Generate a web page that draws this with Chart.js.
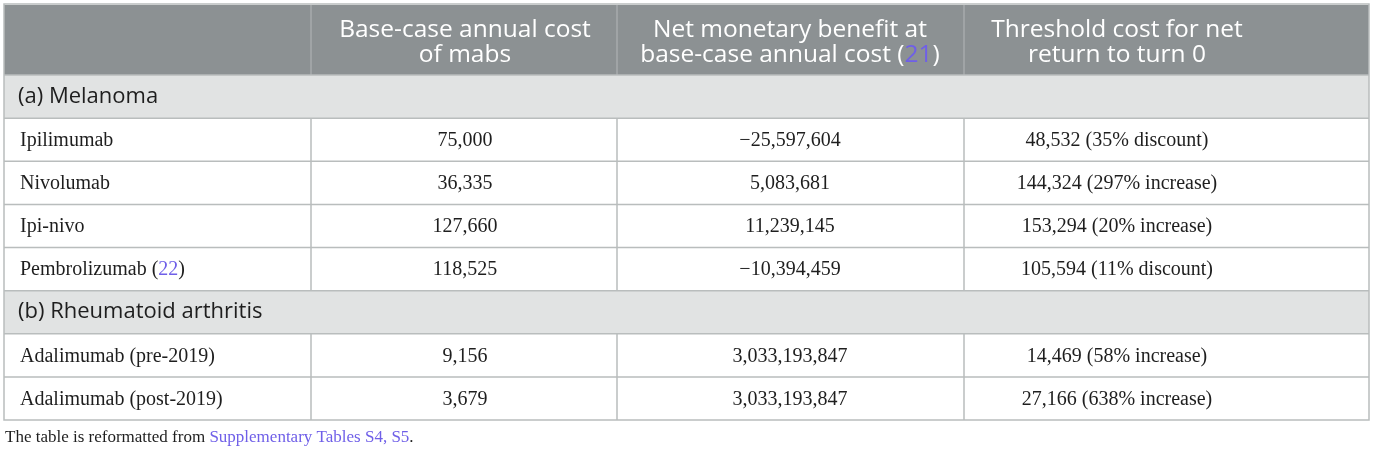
<!DOCTYPE html>
<html>
<head>
<meta charset="utf-8">
<script src="https://cdn.jsdelivr.net/npm/chart.js@4/dist/chart.umd.min.js"></script>
<style>
  body { margin: 0; background: #fff; }
  canvas { display: block; }
</style>
</head>
<body>
<canvas id="costTable" width="1375" height="452"></canvas>
<script>
const ctx = document.getElementById('costTable').getContext('2d');

// table content
const rowLabels = ['(a) Melanoma', 'Ipilimumab', 'Nivolumab', 'Ipi-nivo', 'Pembrolizumab',
    '(b) Rheumatoid arthritis', 'Adalimumab (pre-2019)', 'Adalimumab (post-2019)'];
const sectionRows = [true, false, false, false, false, true, false, false];
const labelRefs = [null, null, null, null, '22', null, null, null];
const baseCost = [null, 75000, 36335, 127660, 118525, null, 9156, 3679];
const netBenefit = [null, -25597604, 5083681, 11239145, -10394459, null, 3033193847, 3033193847];
const thresholdCost = [null, 48532, 144324, 153294, 105594, null, 14469, 27166];
const thresholdChange = [null, '35% discount', '297% increase', '20% increase', '11% discount',
    null, '58% increase', '638% increase'];
const headerLines = [
    [],
    [['Base-case annual cost'], ['of mabs']],
    [['Net monetary benefit at'], ['base-case annual cost (', '21', ')']],
    [['Threshold cost for net'], ['return to turn 0']]
];
const footnote = ['The table is reformatted from ', 'Supplementary Tables S4, S5', '.'];

// layout (x scale units = table width in px)
const TABLE_W = 1365;
const colEdges = [0, 307, 613, 960, TABLE_W];
const colAnchor = [16, 461, 786, 1113];
const HEADER_TOP = 5;

const LINK = '#6f5fe8';
const TEXT = '#1e1e1e';
const BORDER = '#b9bdbd';
const HEADER_BG = '#8c9193';
const SECTION_BG = '#e1e3e3';

const fmt = v => (v < 0 ? '\u2212' : '') + Math.abs(v).toLocaleString('en-US');

// draw text made of parts, odd parts are citation links
function drawParts(c, parts, x, y, align, color) {
    const widths = parts.map(p => c.measureText(p).width);
    const total = widths.reduce((a, b) => a + b, 0);
    let cx = align === 'center' ? x - total / 2 : x;
    c.textAlign = 'left';
    parts.forEach((p, i) => {
        c.fillStyle = i % 2 === 1 ? LINK : color;
        c.fillText(p, cx, y);
        cx += widths[i];
    });
}

const tablePlugin = {
    id: 'tableCells',
    beforeDatasetsDraw(chart) {
        const c = chart.ctx;
        const x = chart.scales.x;
        const area = chart.chartArea;
        c.save();
        c.fillStyle = HEADER_BG;
        c.fillRect(x.getPixelForValue(0), HEADER_TOP, x.getPixelForValue(TABLE_W) - x.getPixelForValue(0), area.top - HEADER_TOP);
        c.restore();
    },
    afterDatasetsDraw(chart) {
        const c = chart.ctx;
        const x = chart.scales.x;
        const y = chart.scales.y;
        const area = chart.chartArea;
        const left = x.getPixelForValue(0);
        const right = x.getPixelForValue(TABLE_W);
        const rowH = y.getPixelForValue(1) - y.getPixelForValue(0);
        c.save();

        // header separators
        c.strokeStyle = '#a7abad';
        c.lineWidth = 1.5;
        for (let k = 1; k < colEdges.length - 1; k++) {
            const px = x.getPixelForValue(colEdges[k]);
            c.beginPath();
            c.moveTo(px, HEADER_TOP);
            c.lineTo(px, area.top);
            c.stroke();
        }

        // row borders
        c.strokeStyle = BORDER;
        rowLabels.forEach((_, i) => {
            const top = y.getPixelForValue(i) - rowH / 2;
            c.beginPath();
            c.moveTo(left, top);
            c.lineTo(right, top);
            c.stroke();
            if (!sectionRows[i]) {
                for (let k = 1; k < colEdges.length - 1; k++) {
                    const px = x.getPixelForValue(colEdges[k]);
                    c.beginPath();
                    c.moveTo(px, top);
                    c.lineTo(px, top + rowH);
                    c.stroke();
                }
            }
        });
        c.strokeRect(left, HEADER_TOP - 1, right - left, area.bottom - HEADER_TOP + 1);

        // header text
        c.textBaseline = 'middle';
        c.font = '24.5px "Open Sans"';
        headerLines.forEach((lines, k) => {
            lines.forEach((parts, j) => {
                drawParts(c, parts, x.getPixelForValue(colAnchor[k]), area.top - 45 + j * 25, 'center', '#ffffff');
            });
        });

        // body cells
        rowLabels.forEach((label, i) => {
            const cy = y.getPixelForValue(i);
            if (sectionRows[i]) {
                c.font = '22px "Open Sans"';
                drawParts(c, [label], x.getPixelForValue(14), cy, 'left', TEXT);
                return;
            }
            c.font = '20px "Liberation Serif"';
            const labelParts = labelRefs[i] ? [label + ' (', labelRefs[i], ')'] : [label];
            drawParts(c, labelParts, x.getPixelForValue(colAnchor[0]), cy + 1, 'left', TEXT);
            drawParts(c, [fmt(baseCost[i])], x.getPixelForValue(colAnchor[1]), cy + 1, 'center', TEXT);
            drawParts(c, [fmt(netBenefit[i])], x.getPixelForValue(colAnchor[2]), cy + 1, 'center', TEXT);
            drawParts(c, [fmt(thresholdCost[i]) + ' (' + thresholdChange[i] + ')'],
                x.getPixelForValue(colAnchor[3]), cy + 1, 'center', TEXT);
        });

        // footnote
        c.font = '17px "Liberation Serif"';
        drawParts(c, footnote, left + 1, area.bottom + 18, 'left', TEXT);
        c.restore();
    }
};

new Chart(ctx, {
    type: 'bar',
    data: {
        labels: rowLabels,
        datasets: [
            // section bands
            {
                data: sectionRows.map(s => s ? [0, TABLE_W] : null),
                backgroundColor: SECTION_BG,
                barPercentage: 1,
                categoryPercentage: 1,
                borderWidth: 0
            }
        ]
    },
    options: {
        indexAxis: 'y',
        responsive: false,
        animation: false,
        layout: { padding: { top: 75, bottom: 32, left: 4, right: 6 } },
        plugins: {
            legend: { display: false },
            tooltip: { enabled: false }
        },
        scales: {
            x: { type: 'linear', min: 0, max: TABLE_W, display: false },
            y: { type: 'category', display: false, offset: true }
        }
    },
    plugins: [tablePlugin]
});
</script>
</body>
</html>
